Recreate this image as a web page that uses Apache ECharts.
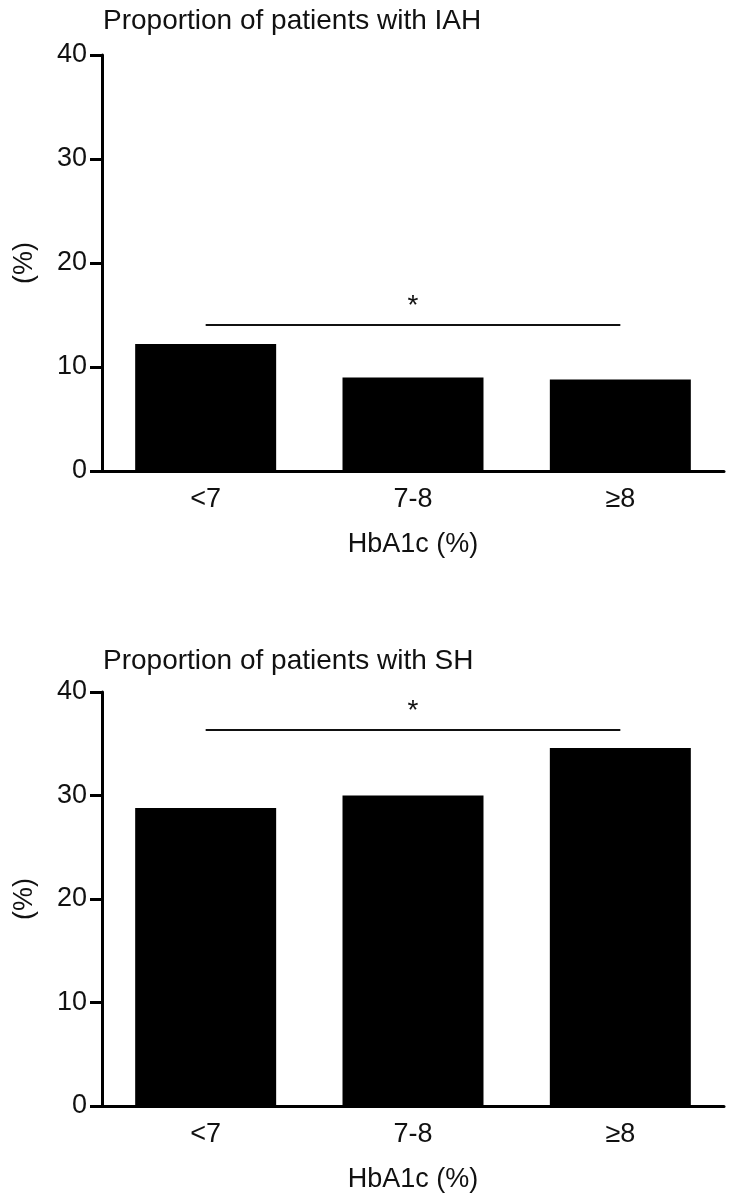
<!DOCTYPE html>
<html>
<head>
<meta charset="utf-8">
<script src="https://cdn.jsdelivr.net/npm/echarts@6/dist/echarts.min.js"></script>
<style>
  html, body { margin: 0; padding: 0; background: #fff; }
  #chart { width: 730px; height: 1200px; }
</style>
</head>
<body>
<div id="chart"></div>
<script>
// data
const categories = ['<7', '7-8', '≥8']
const iahValues = [12.2, 9.0, 8.8]
const shValues = [28.8, 30.0, 34.6]
const iahSigLevel = 14.1
const shSigLevel = 36.4
const yMin = 0
const yMax = 40
const yStep = 10

const FONT = 'Liberation Sans'
const chart = echarts.init(document.getElementById('chart'))

function xAxisFor(gridIndex) {
  return {
    type: 'category',
    gridIndex: gridIndex,
    data: categories,
    boundaryGap: true,
    name: 'HbA1c (%)',
    nameLocation: 'middle',
    nameGap: 60,
    nameTextStyle: { fontFamily: FONT, fontSize: 27, color: '#111' },
    axisLine: { lineStyle: { color: '#000', width: 3 } },
    axisTick: { alignWithLabel: true, length: 12, lineStyle: { width: 3, color: '#000' } },
    axisLabel: { fontFamily: FONT, fontSize: 27, color: '#111', margin: 15 }
  }
}

function yAxisFor(gridIndex) {
  return {
    type: 'value',
    gridIndex: gridIndex,
    min: yMin,
    max: yMax,
    interval: yStep,
    name: '(%)',
    nameLocation: 'middle',
    nameGap: 64,
    nameTextStyle: { fontFamily: FONT, fontSize: 27, color: '#111' },
    splitLine: { show: false },
    axisLine: { show: true, lineStyle: { color: '#000', width: 3 } },
    axisTick: { show: true, length: 12, lineStyle: { width: 3, color: '#000' } },
    axisLabel: { fontFamily: FONT, fontSize: 27, color: '#111', margin: 15 }
  }
}

function barSeries(idx, values, sigLevel) {
  return {
    type: 'bar',
    xAxisIndex: idx,
    yAxisIndex: idx,
    data: values,
    barWidth: '68%',
    itemStyle: { color: '#000' },
    markLine: {
      symbol: 'none',
      silent: true,
      lineStyle: { color: '#111', width: 2, type: 'solid' },
      label: {
        show: true,
        position: 'middle',
        formatter: '*',
        fontFamily: FONT,
        fontSize: 28,
        color: '#111',
        distance: 4
      },
      data: [[
        { coord: [categories[0], sigLevel] },
        { coord: [categories[categories.length - 1], sigLevel] }
      ]]
    }
  }
}

chart.setOption({
  animation: false,
  title: [
    { text: 'Proportion of patients with IAH', left: 98, top: 2,
      textStyle: { fontFamily: FONT, fontSize: 28, fontWeight: 'normal', color: '#111' } },
    { text: 'Proportion of patients with SH', left: 98, top: 642,
      textStyle: { fontFamily: FONT, fontSize: 28, fontWeight: 'normal', color: '#111' } }
  ],
  grid: [
    { left: 102, top: 55, width: 622, height: 416 },
    { left: 102, top: 692, width: 622, height: 414 }
  ],
  xAxis: [xAxisFor(0), xAxisFor(1)],
  yAxis: [yAxisFor(0), yAxisFor(1)],
  series: [
    barSeries(0, iahValues, iahSigLevel),
    barSeries(1, shValues, shSigLevel)
  ]
})
</script>
</body>
</html>
